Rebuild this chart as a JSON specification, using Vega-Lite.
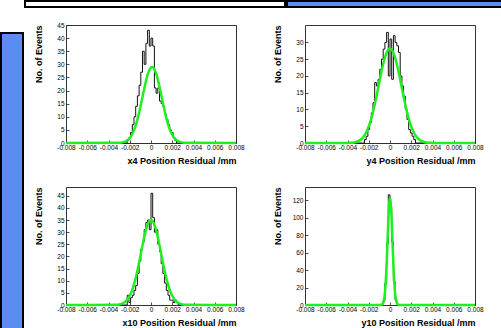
{
"$schema": "https://vega.github.io/schema/vega-lite/v6.json",
"background": "white",
"padding": 0,
"spacing": 0,
"datasets": {
"hist": [
{"p":"x4","x":-0.008,"y":0},{"p":"x4","x":-0.0024,"y":0},{"p":"x4","x":-0.00224,"y":1},{"p":"x4","x":-0.00208,"y":2},{"p":"x4","x":-0.00192,"y":4},{"p":"x4","x":-0.00176,"y":7},{"p":"x4","x":-0.0016,"y":10},{"p":"x4","x":-0.00144,"y":14},{"p":"x4","x":-0.00128,"y":18},{"p":"x4","x":-0.00112,"y":22},{"p":"x4","x":-0.00096,"y":27},{"p":"x4","x":-0.0008,"y":35},{"p":"x4","x":-0.00064,"y":30},{"p":"x4","x":-0.00048,"y":38},{"p":"x4","x":-0.00032,"y":43},{"p":"x4","x":-0.00016,"y":37},{"p":"x4","x":0,"y":40},{"p":"x4","x":0.00016,"y":37},{"p":"x4","x":0.00032,"y":21},{"p":"x4","x":0.00048,"y":19},{"p":"x4","x":0.00064,"y":21},{"p":"x4","x":0.0008,"y":16},{"p":"x4","x":0.00096,"y":15},{"p":"x4","x":0.00112,"y":14},{"p":"x4","x":0.00128,"y":11},{"p":"x4","x":0.00144,"y":9},{"p":"x4","x":0.0016,"y":7},{"p":"x4","x":0.00176,"y":5},{"p":"x4","x":0.00192,"y":4},{"p":"x4","x":0.00208,"y":2},{"p":"x4","x":0.00224,"y":1},{"p":"x4","x":0.0024,"y":0},{"p":"x4","x":0.008,"y":0},
{"p":"y4","x":-0.008,"y":0},{"p":"y4","x":-0.00256,"y":0},{"p":"y4","x":-0.0024,"y":1},{"p":"y4","x":-0.00224,"y":2},{"p":"y4","x":-0.00208,"y":4},{"p":"y4","x":-0.00192,"y":6},{"p":"y4","x":-0.00176,"y":9},{"p":"y4","x":-0.0016,"y":12},{"p":"y4","x":-0.00144,"y":18},{"p":"y4","x":-0.00128,"y":17},{"p":"y4","x":-0.00112,"y":19},{"p":"y4","x":-0.00096,"y":22},{"p":"y4","x":-0.0008,"y":25},{"p":"y4","x":-0.00064,"y":28},{"p":"y4","x":-0.00048,"y":30},{"p":"y4","x":-0.00032,"y":33},{"p":"y4","x":-0.00016,"y":20},{"p":"y4","x":0,"y":31},{"p":"y4","x":0.00016,"y":19},{"p":"y4","x":0.00032,"y":32},{"p":"y4","x":0.00048,"y":30},{"p":"y4","x":0.00064,"y":29},{"p":"y4","x":0.0008,"y":27},{"p":"y4","x":0.00096,"y":20},{"p":"y4","x":0.00112,"y":17},{"p":"y4","x":0.00128,"y":14},{"p":"y4","x":0.00144,"y":10},{"p":"y4","x":0.0016,"y":7},{"p":"y4","x":0.00176,"y":4},{"p":"y4","x":0.00192,"y":3},{"p":"y4","x":0.00208,"y":2},{"p":"y4","x":0.00224,"y":1},{"p":"y4","x":0.0024,"y":0},{"p":"y4","x":0.008,"y":0},
{"p":"x10","x":-0.008,"y":0},{"p":"x10","x":-0.0024,"y":0},{"p":"x10","x":-0.00224,"y":4},{"p":"x10","x":-0.00208,"y":1},{"p":"x10","x":-0.00192,"y":3},{"p":"x10","x":-0.00176,"y":4},{"p":"x10","x":-0.0016,"y":6},{"p":"x10","x":-0.00144,"y":8},{"p":"x10","x":-0.00128,"y":13},{"p":"x10","x":-0.00112,"y":18},{"p":"x10","x":-0.00096,"y":23},{"p":"x10","x":-0.0008,"y":26},{"p":"x10","x":-0.00064,"y":31},{"p":"x10","x":-0.00048,"y":34},{"p":"x10","x":-0.00032,"y":35},{"p":"x10","x":-0.00016,"y":31},{"p":"x10","x":0,"y":46},{"p":"x10","x":0.00016,"y":36},{"p":"x10","x":0.00032,"y":30},{"p":"x10","x":0.00048,"y":31},{"p":"x10","x":0.00064,"y":25},{"p":"x10","x":0.0008,"y":22},{"p":"x10","x":0.00096,"y":17},{"p":"x10","x":0.00112,"y":13},{"p":"x10","x":0.00128,"y":9},{"p":"x10","x":0.00144,"y":6},{"p":"x10","x":0.0016,"y":4},{"p":"x10","x":0.00176,"y":2},{"p":"x10","x":0.00192,"y":2},{"p":"x10","x":0.00208,"y":1},{"p":"x10","x":0.00224,"y":2},{"p":"x10","x":0.0024,"y":1},{"p":"x10","x":0.00256,"y":0},{"p":"x10","x":0.008,"y":0},
{"p":"y10","x":-0.008,"y":0},{"p":"y10","x":-0.00096,"y":0},{"p":"y10","x":-0.0008,"y":1},{"p":"y10","x":-0.00064,"y":5},{"p":"y10","x":-0.00048,"y":25},{"p":"y10","x":-0.00032,"y":70},{"p":"y10","x":-0.00016,"y":126},{"p":"y10","x":0,"y":112},{"p":"y10","x":0.00016,"y":72},{"p":"y10","x":0.00032,"y":27},{"p":"y10","x":0.00048,"y":6},{"p":"y10","x":0.00064,"y":1},{"p":"y10","x":0.0008,"y":0},{"p":"y10","x":0.008,"y":0}
],
"fit": [
{"p":"x4","x":-0.008,"y":0},{"p":"x4","x":-0.0031,"y":0.05},{"p":"x4","x":-0.0029,"y":0.11},{"p":"x4","x":-0.0027,"y":0.23},{"p":"x4","x":-0.0025,"y":0.45},{"p":"x4","x":-0.0023,"y":0.83},{"p":"x4","x":-0.0021,"y":1.46},{"p":"x4","x":-0.0019,"y":2.45},{"p":"x4","x":-0.0017,"y":3.92},{"p":"x4","x":-0.0015,"y":5.97},{"p":"x4","x":-0.0013,"y":8.65},{"p":"x4","x":-0.0011,"y":11.92},{"p":"x4","x":-0.0009,"y":15.64},{"p":"x4","x":-0.0007,"y":19.53},{"p":"x4","x":-0.0005,"y":23.22},{"p":"x4","x":-0.0003,"y":26.27},{"p":"x4","x":-0.0001,"y":28.29},{"p":"x4","x":0.0001,"y":29},{"p":"x4","x":0.0003,"y":28.29},{"p":"x4","x":0.0005,"y":26.27},{"p":"x4","x":0.0007,"y":23.22},{"p":"x4","x":0.0009,"y":19.53},{"p":"x4","x":0.0011,"y":15.64},{"p":"x4","x":0.0013,"y":11.92},{"p":"x4","x":0.0015,"y":8.65},{"p":"x4","x":0.0017,"y":5.97},{"p":"x4","x":0.0019,"y":3.92},{"p":"x4","x":0.0021,"y":2.45},{"p":"x4","x":0.0023,"y":1.46},{"p":"x4","x":0.0025,"y":0.83},{"p":"x4","x":0.0027,"y":0.45},{"p":"x4","x":0.0029,"y":0.23},{"p":"x4","x":0.0031,"y":0.11},{"p":"x4","x":0.0033,"y":0.05},{"p":"x4","x":0.008,"y":0},
{"p":"y4","x":-0.008,"y":0},{"p":"y4","x":-0.004,"y":0.02},{"p":"y4","x":-0.0038,"y":0.05},{"p":"y4","x":-0.0036,"y":0.1},{"p":"y4","x":-0.0034,"y":0.18},{"p":"y4","x":-0.0032,"y":0.32},{"p":"y4","x":-0.003,"y":0.55},{"p":"y4","x":-0.0028,"y":0.92},{"p":"y4","x":-0.0026,"y":1.47},{"p":"y4","x":-0.0024,"y":2.28},{"p":"y4","x":-0.0022,"y":3.41},{"p":"y4","x":-0.002,"y":4.92},{"p":"y4","x":-0.0018,"y":6.85},{"p":"y4","x":-0.0016,"y":9.22},{"p":"y4","x":-0.0014,"y":11.98},{"p":"y4","x":-0.0012,"y":15.04},{"p":"y4","x":-0.001,"y":18.22},{"p":"y4","x":-0.0008,"y":21.32},{"p":"y4","x":-0.0006,"y":24.1},{"p":"y4","x":-0.0004,"y":26.3},{"p":"y4","x":-0.0002,"y":27.71},{"p":"y4","x":0,"y":28.2},{"p":"y4","x":0.0002,"y":27.71},{"p":"y4","x":0.0004,"y":26.3},{"p":"y4","x":0.0006,"y":24.1},{"p":"y4","x":0.0008,"y":21.32},{"p":"y4","x":0.001,"y":18.22},{"p":"y4","x":0.0012,"y":15.04},{"p":"y4","x":0.0014,"y":11.98},{"p":"y4","x":0.0016,"y":9.22},{"p":"y4","x":0.0018,"y":6.85},{"p":"y4","x":0.002,"y":4.92},{"p":"y4","x":0.0022,"y":3.41},{"p":"y4","x":0.0024,"y":2.28},{"p":"y4","x":0.0026,"y":1.47},{"p":"y4","x":0.0028,"y":0.92},{"p":"y4","x":0.003,"y":0.55},{"p":"y4","x":0.0032,"y":0.32},{"p":"y4","x":0.0034,"y":0.18},{"p":"y4","x":0.0036,"y":0.1},{"p":"y4","x":0.0038,"y":0.05},{"p":"y4","x":0.004,"y":0.02},{"p":"y4","x":0.008,"y":0},
{"p":"x10","x":-0.008,"y":0},{"p":"x10","x":-0.0034,"y":0.06},{"p":"x10","x":-0.0032,"y":0.12},{"p":"x10","x":-0.003,"y":0.24},{"p":"x10","x":-0.0028,"y":0.45},{"p":"x10","x":-0.0026,"y":0.83},{"p":"x10","x":-0.0024,"y":1.44},{"p":"x10","x":-0.0022,"y":2.4},{"p":"x10","x":-0.002,"y":3.82},{"p":"x10","x":-0.0018,"y":5.81},{"p":"x10","x":-0.0016,"y":8.47},{"p":"x10","x":-0.0014,"y":11.82},{"p":"x10","x":-0.0012,"y":15.76},{"p":"x10","x":-0.001,"y":20.11},{"p":"x10","x":-0.0008,"y":24.55},{"p":"x10","x":-0.0006,"y":28.67},{"p":"x10","x":-0.0004,"y":32.03},{"p":"x10","x":-0.0002,"y":34.23},{"p":"x10","x":0,"y":35},{"p":"x10","x":0.0002,"y":34.23},{"p":"x10","x":0.0004,"y":32.03},{"p":"x10","x":0.0006,"y":28.67},{"p":"x10","x":0.0008,"y":24.55},{"p":"x10","x":0.001,"y":20.11},{"p":"x10","x":0.0012,"y":15.76},{"p":"x10","x":0.0014,"y":11.82},{"p":"x10","x":0.0016,"y":8.47},{"p":"x10","x":0.0018,"y":5.81},{"p":"x10","x":0.002,"y":3.82},{"p":"x10","x":0.0022,"y":2.4},{"p":"x10","x":0.0024,"y":1.44},{"p":"x10","x":0.0026,"y":0.83},{"p":"x10","x":0.0028,"y":0.45},{"p":"x10","x":0.003,"y":0.24},{"p":"x10","x":0.0032,"y":0.12},{"p":"x10","x":0.0034,"y":0.06},{"p":"x10","x":0.008,"y":0},
{"p":"y10","x":-0.008,"y":0},{"p":"y10","x":-0.0009,"y":0.06},{"p":"y10","x":-0.00085,"y":0.13},{"p":"y10","x":-0.0008,"y":0.29},{"p":"y10","x":-0.00075,"y":0.6},{"p":"y10","x":-0.0007,"y":1.19},{"p":"y10","x":-0.00065,"y":2.25},{"p":"y10","x":-0.0006,"y":4.06},{"p":"y10","x":-0.00055,"y":7},{"p":"y10","x":-0.0005,"y":11.5},{"p":"y10","x":-0.00045,"y":18},{"p":"y10","x":-0.0004,"y":26.9},{"p":"y10","x":-0.00035,"y":38.3},{"p":"y10","x":-0.0003,"y":52.1},{"p":"y10","x":-0.00025,"y":67.6},{"p":"y10","x":-0.0002,"y":83.6},{"p":"y10","x":-0.00015,"y":98.6},{"p":"y10","x":-0.0001,"y":111},{"p":"y10","x":-0.00005,"y":119.15},{"p":"y10","x":0,"y":122},{"p":"y10","x":0.00005,"y":119.15},{"p":"y10","x":0.0001,"y":111},{"p":"y10","x":0.00015,"y":98.6},{"p":"y10","x":0.0002,"y":83.6},{"p":"y10","x":0.00025,"y":67.6},{"p":"y10","x":0.0003,"y":52.1},{"p":"y10","x":0.00035,"y":38.3},{"p":"y10","x":0.0004,"y":26.9},{"p":"y10","x":0.00045,"y":18},{"p":"y10","x":0.0005,"y":11.5},{"p":"y10","x":0.00055,"y":7},{"p":"y10","x":0.0006,"y":4.06},{"p":"y10","x":0.00065,"y":2.25},{"p":"y10","x":0.0007,"y":1.19},{"p":"y10","x":0.00075,"y":0.6},{"p":"y10","x":0.0008,"y":0.29},{"p":"y10","x":0.00085,"y":0.13},{"p":"y10","x":0.0009,"y":0.06},{"p":"y10","x":0.008,"y":0}
]
},
"hconcat": [
{"spacing": 0, "vconcat": [
 {"width": 22, "height": 31, "data": {"values": []}, "mark": "point", "encoding": {}, "view": {"fill": "white", "stroke": null}},
 {"width": 22, "height": 297, "data": {"values": []}, "mark": "point", "encoding": {}, "view": {"fill": "#5b8cf2", "stroke": "black", "strokeWidth": 2}}
]},
{"spacing": 13, "vconcat": [
 {"spacing": 0, "hconcat": [
  {"width": 260, "height": 6, "data": {"values": []}, "mark": "point", "encoding": {}, "view": {"fill": "white", "stroke": "black", "strokeWidth": 2}},
  {"width": 219, "height": 6, "data": {"values": []}, "mark": "point", "encoding": {}, "view": {"fill": "#5b8cf2", "stroke": "black", "strokeWidth": 2}}
 ]},
 {"spacing": 0, "hconcat": [
  {"width": 8, "height": 10, "data": {"values": []}, "mark": "point", "encoding": {}, "view": {"stroke": null}},
  {"columns": 2, "bounds": "flush", "spacing": {"row": 44, "column": 69}, "concat": [
   {"width": 170, "height": 118, "view": {"stroke": "#333", "strokeWidth": 1},
    "encoding": {
     "x": {"field": "x", "type": "quantitative", "scale": {"domain": [-0.008, 0.008], "nice": false, "zero": false}, "axis": {"values": [-0.008,-0.006,-0.004,-0.002,0,0.002,0.004,0.006,0.008], "labelExpr": "replace(format(datum.value, '.3~f'), '\u2212', '-')", "title": "x4 Position Residual /mm"}},
     "y": {"field": "y", "type": "quantitative", "scale": {"domain": [0, 45], "nice": false}, "axis": {"values": [0,5,10,15,20,25,30,35,40,45], "title": "No. of Events"}}
    },
    "layer": [
     {"data": {"name": "hist"}, "transform": [{"filter": "datum.p == 'x4'"}], "mark": {"type": "line", "interpolate": "step-after", "color": "#111111", "strokeWidth": 1}},
     {"data": {"name": "fit"}, "transform": [{"filter": "datum.p == 'x4'"}], "mark": {"type": "line", "interpolate": "monotone", "color": "#1fef1f", "strokeWidth": 2.5}}
    ]},
   {"width": 170, "height": 118, "view": {"stroke": "#333", "strokeWidth": 1},
    "encoding": {
     "x": {"field": "x", "type": "quantitative", "scale": {"domain": [-0.008, 0.008], "nice": false, "zero": false}, "axis": {"values": [-0.008,-0.006,-0.004,-0.002,0,0.002,0.004,0.006,0.008], "labelExpr": "replace(format(datum.value, '.3~f'), '\u2212', '-')", "title": "y4 Position Residual /mm"}},
     "y": {"field": "y", "type": "quantitative", "scale": {"domain": [0, 35.2], "nice": false}, "axis": {"values": [0,5,10,15,20,25,30], "title": "No. of Events"}}
    },
    "layer": [
     {"data": {"name": "hist"}, "transform": [{"filter": "datum.p == 'y4'"}], "mark": {"type": "line", "interpolate": "step-after", "color": "#111111", "strokeWidth": 1}},
     {"data": {"name": "fit"}, "transform": [{"filter": "datum.p == 'y4'"}], "mark": {"type": "line", "interpolate": "monotone", "color": "#1fef1f", "strokeWidth": 2.5}}
    ]},
   {"width": 170, "height": 118, "view": {"stroke": "#333", "strokeWidth": 1},
    "encoding": {
     "x": {"field": "x", "type": "quantitative", "scale": {"domain": [-0.008, 0.008], "nice": false, "zero": false}, "axis": {"values": [-0.008,-0.006,-0.004,-0.002,0,0.002,0.004,0.006,0.008], "labelExpr": "replace(format(datum.value, '.3~f'), '\u2212', '-')", "title": "x10 Position Residual /mm"}},
     "y": {"field": "y", "type": "quantitative", "scale": {"domain": [0, 48.6], "nice": false}, "axis": {"values": [0,5,10,15,20,25,30,35,40,45], "title": "No. of Events"}}
    },
    "layer": [
     {"data": {"name": "hist"}, "transform": [{"filter": "datum.p == 'x10'"}], "mark": {"type": "line", "interpolate": "step-after", "color": "#111111", "strokeWidth": 1}},
     {"data": {"name": "fit"}, "transform": [{"filter": "datum.p == 'x10'"}], "mark": {"type": "line", "interpolate": "monotone", "color": "#1fef1f", "strokeWidth": 2.5}}
    ]},
   {"width": 170, "height": 118, "view": {"stroke": "#333", "strokeWidth": 1},
    "encoding": {
     "x": {"field": "x", "type": "quantitative", "scale": {"domain": [-0.008, 0.008], "nice": false, "zero": false}, "axis": {"values": [-0.008,-0.006,-0.004,-0.002,0,0.002,0.004,0.006,0.008], "labelExpr": "replace(format(datum.value, '.3~f'), '\u2212', '-')", "title": "y10 Position Residual /mm"}},
     "y": {"field": "y", "type": "quantitative", "scale": {"domain": [0, 135], "nice": false}, "axis": {"values": [0,20,40,60,80,100,120], "title": "No. of Events"}}
    },
    "layer": [
     {"data": {"name": "hist"}, "transform": [{"filter": "datum.p == 'y10'"}], "mark": {"type": "line", "interpolate": "step-after", "color": "#111111", "strokeWidth": 1}},
     {"data": {"name": "fit"}, "transform": [{"filter": "datum.p == 'y10'"}], "mark": {"type": "line", "interpolate": "monotone", "color": "#1fef1f", "strokeWidth": 2.5}}
    ]}
  ]}
 ]}
]}
],
"config": {
 "font": "Liberation Sans",
 "axis": {"labelFont": "Liberation Sans", "labelFontSize": 6.5, "labelColor": "#000000", "titleFont": "Liberation Sans", "titleFontSize": 9, "titleFontWeight": "bold", "titleColor": "#000000", "grid": false, "domain": false, "ticks": true, "tickColor": "#222222", "tickSize": -3, "tickWidth": 0.8},
 "axisX": {"labelPadding": 4, "titleAnchor": "end", "minExtent": 8, "maxExtent": 8, "titlePadding": 5, "labelOverlap": false, "labelFlush": false},
 "axisY": {"labelPadding": 5, "titleAnchor": "end", "minExtent": 14, "maxExtent": 14, "titlePadding": 9, "labelOverlap": false}
}
}
